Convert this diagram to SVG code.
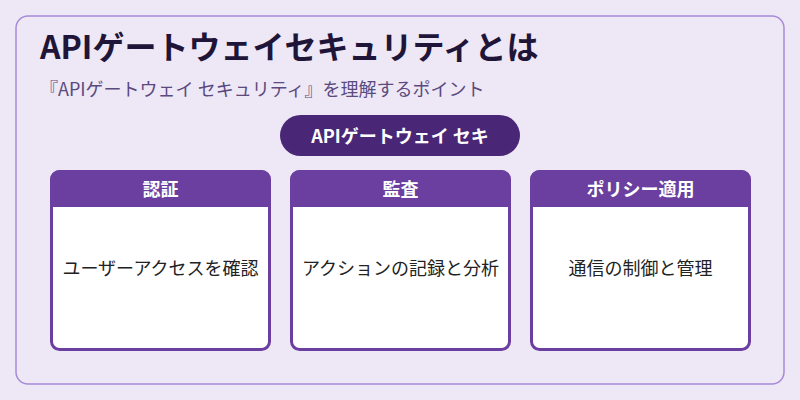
<svg xmlns="http://www.w3.org/2000/svg" width="800" height="400" viewBox="0 0 800 400">
<style>
text{font-family:"Noto Sans CJK JP","Noto Sans",sans-serif}
.hd{fill:#fff;font-size:18px;font-weight:bold;text-anchor:middle}
.bd{fill:#222;font-size:18px;text-anchor:middle}
.card{fill:#fff;stroke:#6b3fa0;stroke-width:3}
.hdr{fill:#6b3fa0}
</style>
<rect width="800" height="400" fill="#ede7f6"/>
<rect x="16" y="16" width="768" height="368" rx="12" fill="#ede7f6" stroke="#a58bd6" stroke-width="1.5"/>
<text x="40" y="59" font-size="32" font-weight="bold" fill="#1f1538">APIゲートウェイセキュリティとは</text>
<text x="40" y="96" font-size="18" fill="#5b4a7d">『APIゲートウェイ セキュリティ』を理解するポイント</text>
<g id="pill"><rect x="280" y="115" width="240" height="41" rx="20.5" fill="#4a2776"/><text x="400" y="143" class="hd" font-size="20">APIゲートウェイ セキ</text></g>
<g id="card1"><rect class="card" x="51.5" y="171.5" width="218" height="178" rx="8"/><path class="hdr" d="M50 207V180a10 10 0 0 1 10-10h201a10 10 0 0 1 10 10v27z"/><text class="hd" x="160.5" y="196">認証</text><text class="bd" x="160.5" y="275">ユーザーアクセスを確認</text></g>
<g id="card2"><rect class="card" x="291.5" y="171.5" width="218" height="178" rx="8"/><path class="hdr" d="M290 207V180a10 10 0 0 1 10-10h201a10 10 0 0 1 10 10v27z"/><text class="hd" x="400.5" y="196">監査</text><text class="bd" x="400.5" y="275">アクションの記録と分析</text></g>
<g id="card3"><rect class="card" x="531.5" y="171.5" width="218" height="178" rx="8"/><path class="hdr" d="M530 207V180a10 10 0 0 1 10-10h201a10 10 0 0 1 10 10v27z"/><text class="hd" x="640.5" y="196">ポリシー適用</text><text class="bd" x="640.5" y="275">通信の制御と管理</text></g>
<g id="connectors"/>
</svg>
